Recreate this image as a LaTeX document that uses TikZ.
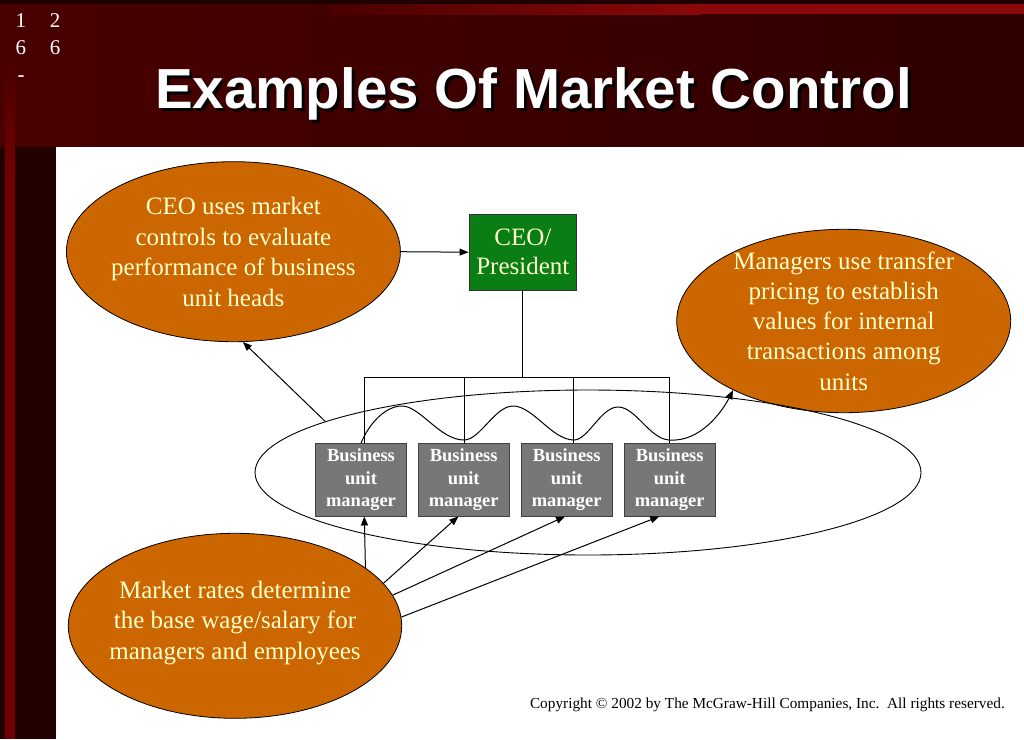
\documentclass[tikz,border=0pt]{standalone}
\usepackage{fontspec}
\setmainfont{Liberation Serif}
\newfontfamily\titlefont{Liberation Sans}
\usetikzlibrary{shapes.geometric,arrows.meta}
\definecolor{bandA}{HTML}{4A0000}
\definecolor{bandB}{HTML}{2E0000}
\definecolor{bandtop}{HTML}{1E0000}
\definecolor{stripered}{HTML}{8A0808}
\definecolor{leftdark}{HTML}{220000}
\definecolor{leftred}{HTML}{700000}
\definecolor{ovalorange}{HTML}{CC6600}
\definecolor{ovaltext}{HTML}{FFFFCC}
\definecolor{ceogreen}{HTML}{0A7D14}
\definecolor{boxgray}{HTML}{777777}
\begin{document}
\begin{tikzpicture}[x=1pt,y=-1pt,
  oval/.style={ellipse,draw=black,line width=0.8pt,fill=ovalorange,inner sep=0pt},
  ovaltxt/.style={align=center,text=ovaltext,font=\fontsize{25}{30.5}\selectfont,inner sep=0pt},
  bum/.style={rectangle,draw=black!75,line width=0.8pt,fill=boxgray,text=white,align=center,
    minimum width=90.5pt,minimum height=72.7pt,inner sep=0pt,font=\fontsize{18.5}{22.5}\selectfont\bfseries},
  arr/.style={line width=1pt,-{Triangle[length=9pt,width=7pt]}},
  ln/.style={line width=1pt},
  slnum/.style={anchor=base,text=white,inner sep=0pt,font=\fontsize{21}{21}\selectfont}]
\useasboundingbox (0,0) rectangle (1024,739);
% background
\fill[leftdark] (0,0) rectangle (1024,739);
\shade[left color=bandA,right color=bandB] (0,0) rectangle (1024,147);
\fill[bandtop] (0,0) rectangle (1024,4);
\shade[left color=bandA,right color=stripered] (330,4) rectangle (700,14);
\fill[stripered] (700,4) rectangle (1024,14);
\fill[leftdark] (0,147) rectangle (56,739);
\shade[top color=bandA,bottom color=leftred] (5,60) rectangle (15,170);
\fill[leftred] (5,170) rectangle (15,739);
\fill[white] (56,147) rectangle (1024,739);
% slide number
\node[slnum] (sn1) at (21,27) {1};
\node[slnum] (sn2) at (55,27) {2};
\node[slnum] (sn3) at (21,54) {6};
\node[slnum] (sn4) at (55,54) {6};
\node[slnum] (sn5) at (21,81) {-};
% title with drop shadow
\node[anchor=base,inner sep=0pt,text=white,font=\titlefont\bfseries\fontsize{56.5}{60}\selectfont] (title) at (533.5,108)
  {\rlap{\hspace{3pt}\raisebox{-3pt}{\color{black}Examples Of Market Control}}Examples Of Market Control};
% ovals
\node[oval,minimum width=334pt,minimum height=180pt] (e1) at (233.4,251.7) {};
\node[ovaltxt] (t1) at (e1) {CEO uses market\\controls to evaluate\\performance of business\\unit heads};
\node[oval,minimum width=334pt,minimum height=183.4pt] (e2) at (843.7,321) {};
\node[ovaltxt,font=\fontsize{25}{30.2}\selectfont] (t2) at (e2) {Managers use transfer\\pricing to establish\\values for internal\\transactions among\\units};
\node[oval,minimum width=333.4pt,minimum height=185pt] (e3) at (235,625.8) {};
\node[ovaltxt] (t3) at ([yshift=3pt]e3.center) {Market rates determine\\the base wage/salary for\\managers and employees};
% CEO box
\node[rectangle,draw=black!80,line width=0.8pt,fill=ceogreen,text=ovaltext,align=center,inner sep=0pt,
  minimum width=107.7pt,minimum height=75.7pt,font=\fontsize{25}{29}\selectfont] (ceo) at (522.8,252.2) {CEO/\\President};
% big ellipse
\node[ellipse,draw=black,line width=0.9pt,minimum width=666pt,minimum height=165pt,inner sep=0pt] (bu) at (588,472.5) {};
% business unit boxes
\node[bum] (b1) at (361,479.7) {Business\\unit\\manager};
\node[bum] (b2) at (463.7,479.7) {Business\\unit\\manager};
\node[bum] (b3) at (566.7,479.7) {Business\\unit\\manager};
\node[bum] (b4) at (669.7,479.7) {Business\\unit\\manager};
% org lines
\coordinate (bus) at (520,377.3);
\draw[ln] (ceo.south) -- (ceo.south |- bus);
\draw[ln] ([xshift=3.3pt]b1.north) -- ([xshift=3.3pt]b1.north |- bus) -- ([xshift=-0.4pt]b4.north |- bus) -- ([xshift=-0.4pt]b4.north);
\draw[ln] ([xshift=0.6pt]b2.north) -- ([xshift=0.6pt]b2.north |- bus);
\draw[ln] ([xshift=7pt]b3.north) -- ([xshift=7pt]b3.north |- bus);
% arrows
\draw[arr] (e1.east) -- (ceo.west);
\draw[arr] (bu.169) -- (e1.-84.2);
\draw[arr] (b1.north) .. controls (369,424) and (385,406) .. (402,406)
  .. controls (420,406) and (440,440) .. (464,440)
  .. controls (480,440) and (495,406) .. (513,406)
  .. controls (533,406) and (552,440) .. (574,440)
  .. controls (588,440) and (601,407) .. (618,407)
  .. controls (636,407) and (650,440) .. (670,440)
  .. controls (700,442) and (722,412) .. (e2.212.9);
\draw[arr] (e3.24.5) -- ([xshift=3.3pt]b1.south);
\draw[arr] (e3.16.7) -- ([xshift=-5.4pt]b2.south);
\draw[arr] (e3.11) -- ([xshift=-1.7pt]b3.south);
\draw[arr] (e3.3.7) -- ([xshift=-10.4pt]b4.south);
% copyright
\node[anchor=base east,inner sep=0pt,font=\fontsize{15.3}{17}\selectfont] (copy) at (1005,708) {Copyright © 2002 by The McGraw-Hill Companies, Inc.\ \ All rights reserved.};
\end{tikzpicture}
\end{document}
